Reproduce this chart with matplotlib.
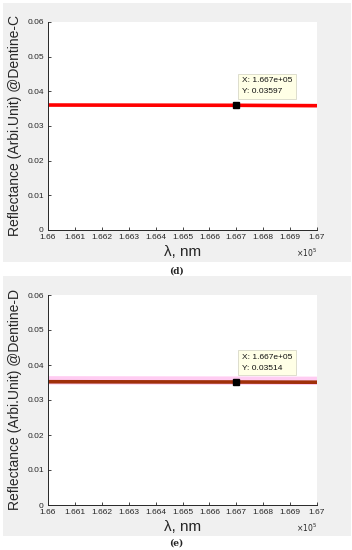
import matplotlib.pyplot as plt
from matplotlib.patches import Rectangle

# data
wavelength = [166000, 166700, 167000]
refl_c = [0.03605, 0.03597, 0.03586]
refl_d = [0.03522, 0.03514, 0.03508]
tip_x = 166700
tip_c = 0.03597
tip_d = 0.03514
xticks = [166000, 166100, 166200, 166300, 166400, 166500, 166600, 166700, 166800, 166900, 167000]
xticklabels = ['1.66', '1.661', '1.662', '1.663', '1.664', '1.665', '1.666', '1.667', '1.668', '1.669', '1.67']
yticks = [0, 0.01, 0.02, 0.03, 0.04, 0.05, 0.06]
yticklabels = ['0', '0.01', '0.02', '0.03', '0.04', '0.05', '0.06']

plt.rcParams['font.family'] = ['Liberation Sans', 'DejaVu Sans']

W, H = 352, 550
fig = plt.figure(figsize=(W / 100, H / 100), dpi=100)
fig.patch.set_facecolor('white')


def px(x0, y0, x1, y1):
    return [x0 / W, 1 - y1 / H, (x1 - x0) / W, (y1 - y0) / H]


def panel(top, bottom, ax_top, ax_bot, y, tip_y, label, tag, tag_y, line_color, highlight=False):
    r = px(3, top, 351, bottom)
    fig.patches.append(Rectangle((r[0], r[1]), r[2], r[3], transform=fig.transFigure,
                                 facecolor='#f0f0f0', edgecolor='none', zorder=-10))
    ax = fig.add_axes(px(48, ax_top, 317, ax_bot))
    ax.set_zorder(1)
    ax.set_facecolor('white')
    if highlight:
        ax.plot(wavelength, [v + 0.0004 for v in y], color='#ffccf2', lw=6, solid_capstyle='butt')
    ax.plot(wavelength, y, color=line_color, lw=2.6, solid_capstyle='butt')
    ax.plot([tip_x], [tip_y], marker='s', color='black', ms=4.5, ls='none', zorder=5)
    ax.annotate(f'X: 1.667e+05\nY: {tip_y}', xy=(tip_x, tip_y), xytext=(4, 9),
                textcoords='offset points', fontsize=6, color='#111111', linespacing=1.7,
                bbox=dict(boxstyle='square,pad=0.45', fc='#ffffe6', ec='#d8d8c8', lw=0.6),
                zorder=6)
    ax.set_xlim(166000, 167000)
    ax.set_ylim(0, 0.06)
    ax.set_xticks(xticks)
    ax.set_xticklabels(xticklabels)
    ax.set_yticks(yticks)
    ax.set_yticklabels(yticklabels)
    for s in ['top', 'right']:
        ax.spines[s].set_visible(False)
    for s in ['left', 'bottom']:
        ax.spines[s].set_color('#262626')
        ax.spines[s].set_linewidth(0.7)
    ax.tick_params(direction='in', length=2.5, width=0.6, labelsize=6,
                   colors='#262626', pad=3)
    ax.set_ylabel(label, fontsize=10, color='#262626', labelpad=4)
    ax.set_xlabel('λ, nm', fontsize=11, color='#262626', labelpad=3)
    ax.text(1.0, -0.11, r'$\times10^5$', transform=ax.transAxes, ha='right', va='center',
            fontsize=5.5, color='#262626')
    fig.text(176 / W, 1 - tag_y / H, tag, ha='center', va='center',
             fontsize=6.5, family='DejaVu Serif', fontweight='bold', color='#222222')
    return ax


panel(3, 262, 22, 230, refl_c, tip_c, 'Reflectance (Arbi.Unit) @Dentine-C', '(d)', 271, '#ff0000')
panel(276, 536, 295, 505, refl_d, tip_d, 'Reflectance (Arbi.Unit) @Dentine-D', '(e)', 543, '#a0300a',
      highlight=True)

fig.savefig('out.png', dpi=100, facecolor='white')
